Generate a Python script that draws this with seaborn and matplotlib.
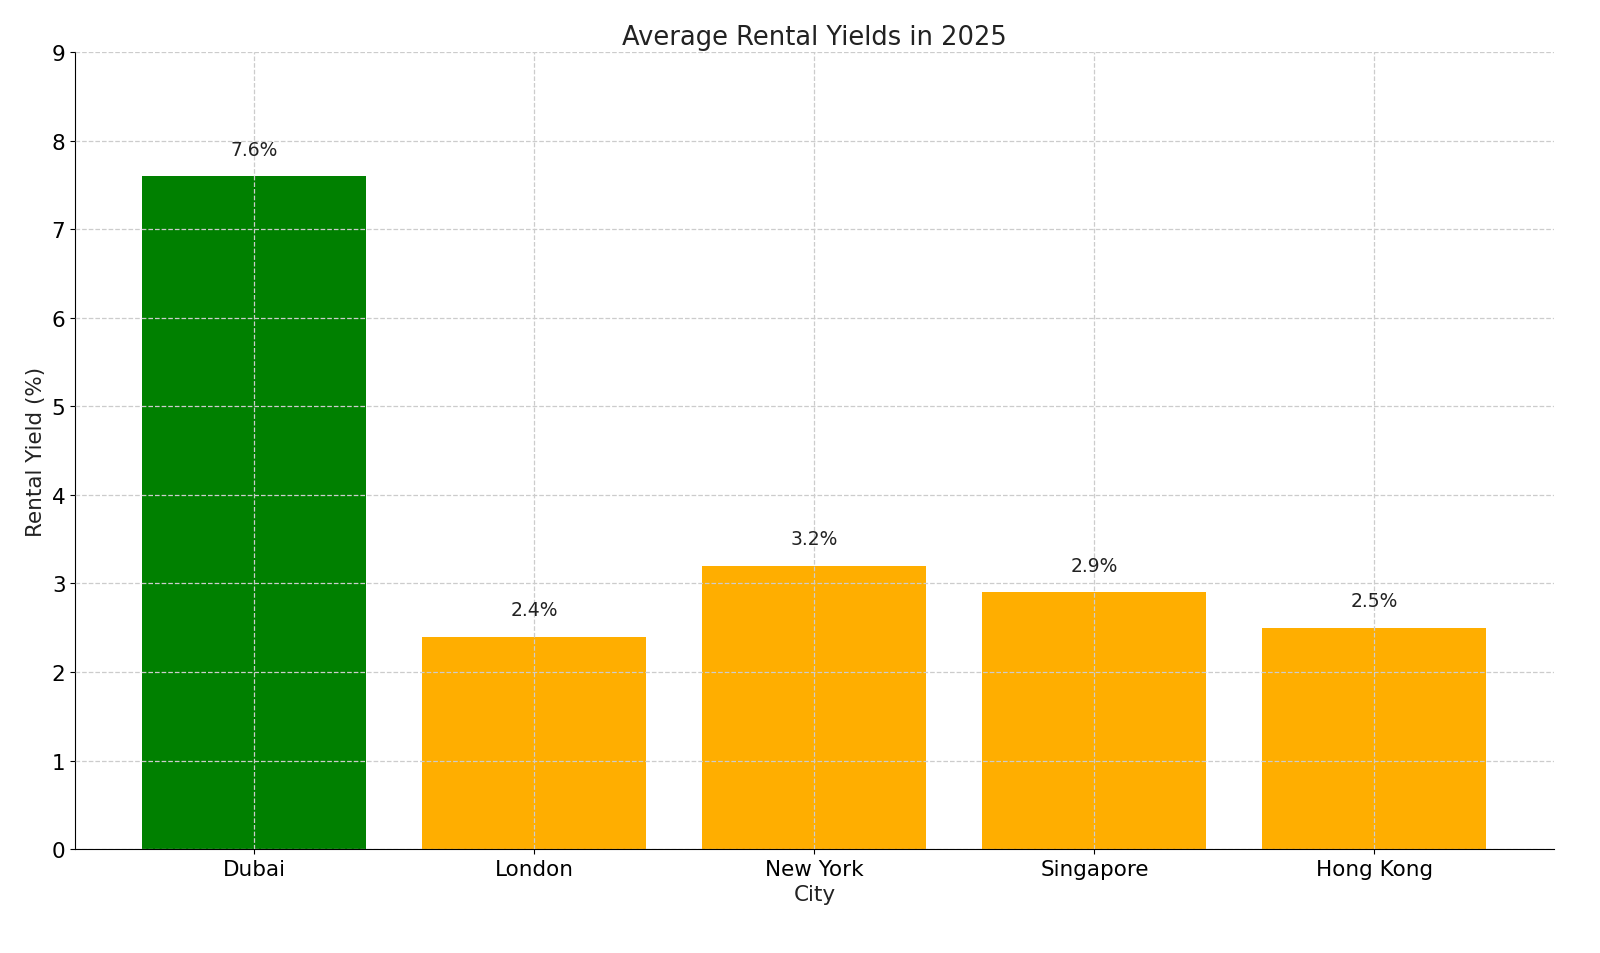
import matplotlib
matplotlib.use("Agg")
import matplotlib.pyplot as plt
import seaborn as sns
import pandas as pd

cities = ["Dubai", "London", "New York", "Singapore", "Hong Kong"]
yields = [7.6, 2.4, 3.2, 2.9, 2.5]
colors = ["#008000", "#FFAE00", "#FFAE00", "#FFAE00", "#FFAE00"]

df = pd.DataFrame({"City": cities, "Yield": yields})
fig, ax = plt.subplots(figsize=(16, 9.54), dpi=100)
sns.barplot(data=df, x="City", y="Yield", hue="City", palette=colors, legend=False,
            width=0.8, saturation=1, ax=ax)
for i, v in enumerate(yields):
    ax.text(i, v + 0.2, f"{v}%", ha="center", va="bottom", fontsize=13.5, color="#222222")
ax.set_xlim(-0.64, 4.64)
ax.set_ylim(0, 9)
ax.grid(True, linestyle="--", color="#cccccc", linewidth=0.9)
ax.set_axisbelow(False)
for s in ["top", "right"]:
    ax.spines[s].set_visible(False)
ax.tick_params(labelsize=15.5)
ax.set_title("Average Rental Yields in 2025", fontsize=18.5, color="#222222")
ax.set_xlabel("City", fontsize=15.5, color="#222222")
ax.set_ylabel("Rental Yield (%)", fontsize=15.5, color="#222222")
fig.subplots_adjust(left=0.047, right=0.971, top=0.944, bottom=0.109)
fig.savefig("out.png", dpi=100)
